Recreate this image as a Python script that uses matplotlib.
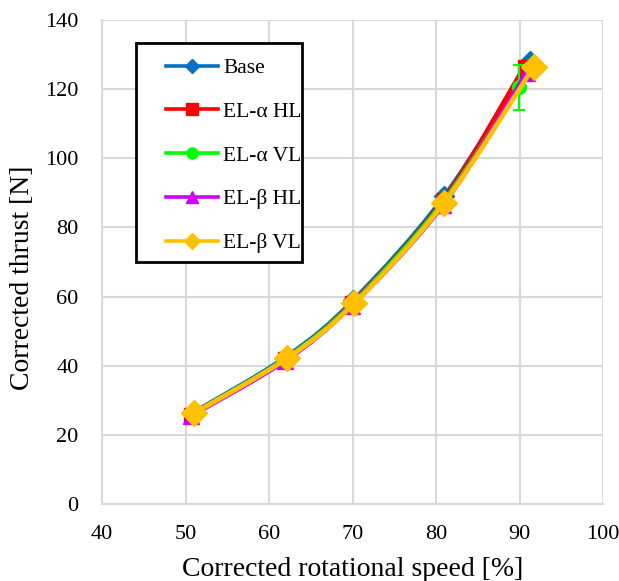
import numpy as np
import matplotlib.pyplot as plt
from matplotlib.path import Path
from matplotlib.patches import PathPatch, Rectangle
from matplotlib.lines import Line2D

plt.rcParams['font.family'] = ['Liberation Serif', 'DejaVu Serif']

labels = ['Base', 'EL-α HL', 'EL-α VL', 'EL-β HL', 'EL-β VL']
colors_ = ['#0070C0', '#FF0000', '#00FF00', '#CC00FF', '#FFC000']
markers = ['D', 's', 'o', '^', 'D']
msizes = [10, 10, 10, 11, 13]

x_base = [51.0, 62.1, 70.1, 81.0, 91.3]
y_base = [26.5, 42.6, 58.9, 89.0, 128.2]
x_aHL = [50.6, 61.9, 69.9, 80.9, 90.6]
y_aHL = [25.8, 41.8, 58.0, 88.0, 126.5]
x_aVL = [50.8, 62.0, 70.0, 80.7, 89.9]
y_aVL = [26.0, 42.0, 58.0, 86.8, 120.5]
e_aVL = [0.0, 0.0, 0.0, 0.0, 6.5]
x_bHL = [50.6, 61.9, 69.9, 80.8, 90.9]
y_bHL = [25.4, 41.4, 57.4, 86.4, 124.8]
x_bVL = [51.0, 62.2, 70.2, 81.0, 91.7]
y_bVL = [26.2, 42.2, 58.0, 87.2, 126.5]

xs = [x_base, x_aHL, x_aVL, x_bHL, x_bVL]
ys = [y_base, y_aHL, y_aVL, y_bHL, y_bVL]


def smooth_path(x, y):
    # excel-like smoothed line through the points
    p = np.column_stack([x, y])
    pe = np.vstack([p[0], p, p[-1]])
    verts = [p[0]]
    codes = [Path.MOVETO]
    for i in range(len(p) - 1):
        c1 = pe[i + 1] + (pe[i + 2] - pe[i]) / 6
        c2 = pe[i + 2] - (pe[i + 3] - pe[i + 1]) / 6
        verts += [c1, c2, pe[i + 2]]
        codes += [Path.CURVE4] * 3
    return Path(verts, codes)


W, H = 619, 581
fig = plt.figure(figsize=(W / 100, H / 100), dpi=100)
ax = fig.add_axes([102 / W, (H - 504) / H, 501 / W, 484 / H])

for i in range(5):
    ax.add_patch(PathPatch(smooth_path(xs[i], ys[i]), fill=False,
                           edgecolor=colors_[i], lw=3.4, zorder=3 + i,
                           capstyle='round'))
    ax.plot(xs[i], ys[i], ls='none', marker=markers[i], ms=msizes[i],
            color=colors_[i], zorder=3 + i)

ax.errorbar(x_aVL, y_aVL, yerr=e_aVL, fmt='none', ecolor='#00FF00',
            elinewidth=1.5, capsize=4, capthick=1.5, zorder=5)

ax.set_xlim(40, 100)
ax.set_ylim(0, 140)
ax.set_xticks(np.arange(40, 101, 10))
ax.set_yticks(np.arange(0, 141, 20))
ax.grid(True, color='#D9D9D9', lw=1.5)
ax.set_axisbelow(True)
for s in ['top', 'right']:
    ax.spines[s].set_visible(False)
for s in ['left', 'bottom']:
    ax.spines[s].set_color('#D9D9D9')
    ax.spines[s].set_linewidth(1.5)
ax.tick_params(axis='y', length=0, labelsize=16, pad=17)
ax.tick_params(axis='x', length=0, labelsize=16, pad=15)

ax.set_xlabel('Corrected rotational speed [%]', fontsize=20)
ax.set_ylabel('Corrected thrust [N]', fontsize=20)
ax.xaxis.set_label_coords(0.5, (504 - 570) / 484, transform=ax.transAxes)
ax.xaxis.label.set_va('center')
ax.yaxis.set_label_coords((23 - 102) / 501, (504 - 278) / 484, transform=ax.transAxes)
ax.yaxis.label.set_va('center')

# legend frame, drawn on the axes in figure pixels
ax.add_patch(Rectangle((136 / W, (H - 262) / H), 166 / W, 219 / H,
                       transform=fig.transFigure, clip_on=False,
                       facecolor='white', edgecolor='black', lw=2,
                       zorder=19))

handles = [Line2D([], [], color=colors_[i], lw=2.6, marker=markers[i],
                  ms=[7, 8, 8, 8, 8][i]) for i in range(5)]
leg = ax.legend(handles, labels, loc='upper left',
                bbox_to_anchor=((166 - 102) / 501, (504 - 58) / 484),
                fontsize=15.5, labelspacing=1.1, handlelength=2.42,
                handletextpad=0.23, borderpad=0, borderaxespad=0,
                frameon=False)
leg.set_zorder(20)

fig.savefig('out.png', dpi=100)
